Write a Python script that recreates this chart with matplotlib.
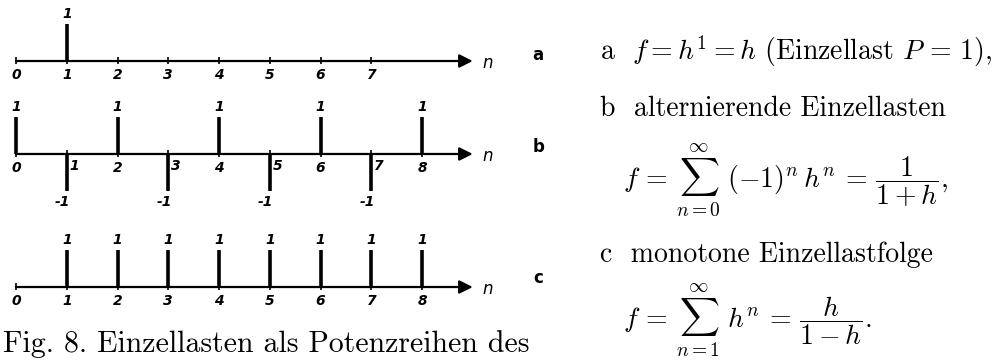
import matplotlib
matplotlib.use("Agg")
import matplotlib.pyplot as plt

plt.rcParams['mathtext.fontset'] = 'cm'
plt.rcParams['axes.unicode_minus'] = False

# load rows: positions n and load values
n_a = [1]
P_a = [1]
n_b = [0, 1, 2, 3, 4, 5, 6, 7, 8]
P_b = [1, -1, 1, -1, 1, -1, 1, -1, 1]
n_c = [1, 2, 3, 4, 5, 6, 7, 8]
P_c = [1, 1, 1, 1, 1, 1, 1, 1]

ticks_a = [0, 1, 2, 3, 4, 5, 6, 7]
ticks_b = [0, 1, 2, 3, 4, 5, 6, 7, 8]
ticks_c = [0, 1, 2, 3, 4, 5, 6, 7, 8]

rows = [
    ('a', n_a, P_a, ticks_a, -1.649, -1.49),
    ('b', n_b, P_b, ticks_b, -4.162, -3.97),
    ('c', n_c, P_c, ticks_c, -7.757, -7.51),
]

fig = plt.figure(figsize=(10.06, 3.62), dpi=100)
ax = fig.add_axes([0, 0, 1, 1])
ax.set_xlim(-16 / 50.75, (1006 - 16) / 50.75)
ax.set_ylim(-362 / 37, 0)
ax.axis('off')

hand = dict(fontsize=10, fontstyle='italic', fontweight='bold', family='DejaVu Sans')

for name, ns, vals, ticks, y0, ylet in rows:
    # axis with arrow
    ax.annotate('', xy=(9.0, y0), xytext=(0, y0),
                arrowprops=dict(arrowstyle='-|>', lw=1.6, color='black',
                                mutation_scale=20, shrinkA=0, shrinkB=0))
    ax.vlines(ticks, y0 - 0.08, y0 + 0.1, color='black', lw=1.2)
    ax.vlines(ns, y0, [y0 + v for v in vals], color='black', lw=2.6)
    for n, v in zip(ns, vals):
        if v > 0:
            ax.text(n, y0 + v + 0.08, '1', ha='center', va='bottom', **hand)
        else:
            ax.text(n - 0.08, y0 + v - 0.12, '-1', ha='center', va='top', **hand)
    for t in ticks:
        if name == 'b' and t % 2 == 1:
            ax.text(t + 0.06, y0 - 0.14, str(t), ha='left', va='top', **hand)
        else:
            ax.text(t, y0 - 0.2, str(t), ha='center', va='top', **hand)
    ax.text(9.3, y0 - 0.05, 'n', ha='center', va='center', fontsize=12,
            fontstyle='italic', family='DejaVu Sans')
    ax.text(10.29, ylet, name, ha='center', va='center', fontsize=12,
            fontweight='bold', family='DejaVu Sans')

serif = dict(family='cmr10', fontsize=20)
x0 = 600 / 1006
fig.text(x0, 0.834, r'a  $f = h^1 = h$ (Einzellast $P\,=\,1$),', va='baseline', **serif)
fig.text(x0, 0.680, 'b  alternierende Einzellasten', va='baseline', **serif)
fig.text(623 / 1006, 0.5,
         r'$f\, =\, \sum_{n=0}^{\infty}\ (-1)^n\, h^n\, =\, \dfrac{1}{1+h},$',
         va='center', **serif)
fig.text(x0, 0.276, 'c  monotone Einzellastfolge', va='baseline', **serif)
fig.text(623 / 1006, 0.112,
         r'$f\, =\, \sum_{n=1}^{\infty}\ h^n\, =\, \dfrac{h}{1-h}.$',
         va='center', **serif)
fig.text(3 / 1006, 0.028, 'Fig. 8. Einzellasten als Potenzreihen des',
         va='baseline', family='cmr10', fontsize=21.5)

fig.savefig('out.png', dpi=100)
